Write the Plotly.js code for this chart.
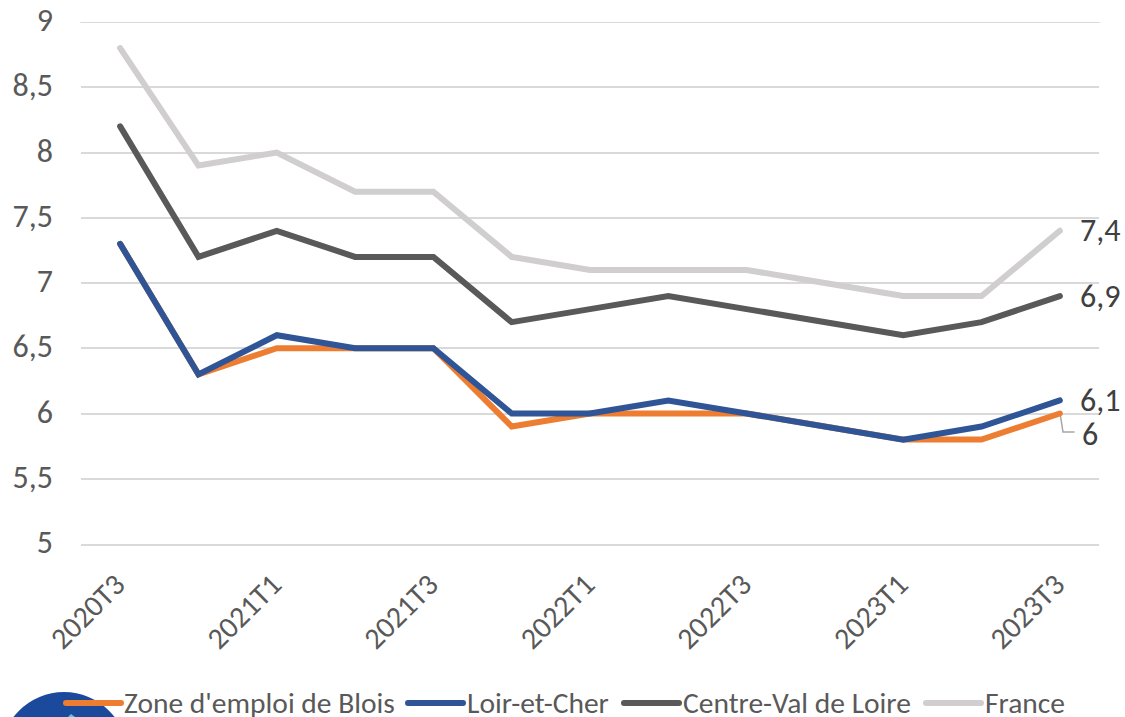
<!DOCTYPE html>
<html><head><meta charset="utf-8">
<script src="https://cdn.plot.ly/plotly-3.0.1.min.js"></script>
<style>html,body{margin:0;padding:0;background:#fff;overflow:hidden}#c{width:1125px;height:717px}
.js-line,.shapelayer path{stroke-linecap:round}</style>
</head><body><div id="c"></div>
<script>
const categories = ["2020T3","2020T4","2021T1","2021T2","2021T3","2021T4","2022T1","2022T2","2022T3","2022T4","2023T1","2023T2","2023T3"];
const tickLabels = ["2020T3","2021T1","2021T3","2022T1","2022T3","2023T1","2023T3"];
const yTicks = [5,5.5,6,6.5,7,7.5,8,8.5,9];
const yTickLabels = ["5","5,5","6","6,5","7","7,5","8","8,5","9"];
const blois = [7.3,6.3,6.5,6.5,6.5,5.9,6.0,6.0,6.0,5.9,5.8,5.8,6.0];
const loirCher = [7.3,6.3,6.6,6.5,6.5,6.0,6.0,6.1,6.0,5.9,5.8,5.9,6.1];
const centre = [8.2,7.2,7.4,7.2,7.2,6.7,6.8,6.9,6.8,6.7,6.6,6.7,6.9];
const france = [8.8,7.9,8.0,7.7,7.7,7.2,7.1,7.1,7.1,7.0,6.9,6.9,7.4];
const names = ["Zone d'emploi de Blois","Loir-et-Cher","Centre-Val de Loire","France"];
const colors = ["#ED7D31","#2F5597","#595959","#D0CECE"];
const series = [blois,loirCher,centre,france];
const font = "Carlito, 'Open Sans', 'Noto Sans', sans-serif";
const L = 81, R = 1099, T = 22, B = 544;
const px = x=>(x-L)/(R-L), py = y=>(B-y)/(B-T);
const traces = [france,centre,blois,loirCher].map(v=>{
  const i = series.indexOf(v);
  return {x:categories,y:v,type:'scatter',mode:'lines',name:names[i],showlegend:false,
    line:{color:colors[i],width:6,shape:'linear'},hoverinfo:'skip',cliponaxis:false};
});
const labelText = v=>String(v).replace('.',',');
const last = categories[categories.length-1];
const ann = [
 {v:france,dx:20,dy:0},{v:centre,dx:20,dy:0},{v:loirCher,dx:20,dy:0},{v:blois,dx:22,dy:21}
].map(o=>({x:last,y:o.v[o.v.length-1],xref:'x',yref:'y',text:labelText(o.v[o.v.length-1]),showarrow:false,
  xanchor:'left',yanchor:'middle',xshift:o.dx-2,yshift:-o.dy,font:{size:32,color:'#404040',family:font}}));
const legendX = [66,408,624,926], legendTextX=[124,467,683,985];
const shapes = [];
const legAnn = names.map((n,i)=>({xref:'paper',yref:'paper',x:px(legendTextX[i]),y:py(703),
  text:n,showarrow:false,xanchor:'left',yanchor:'middle',xshift:-2,height:28,font:{size:29.5,color:'#595959',family:font}}));
names.forEach((n,i)=>shapes.push({type:'line',xref:'paper',yref:'paper',layer:'above',
  x0:px(legendX[i]),x1:px(legendX[i]+55),y0:py(703),y1:py(703),line:{color:colors[i],width:6}}));
// leader line of the "6" label
shapes.push({type:'path',xref:'paper',yref:'paper',layer:'below',
  path:`M ${px(1060)} ${py(413)} L ${px(1063)} ${py(432)} L ${px(1074)} ${py(432)}`,
  line:{color:'#A6A6A6',width:1.5}});
// top gridline
shapes.push({type:'line',xref:'paper',yref:'y',layer:'below',x0:0,x1:1,y0:9,y1:9,line:{color:'#D9D9D9',width:2}});
// logo, bottom-left, cropped by the page edge
shapes.unshift({type:'circle',xref:'paper',yref:'paper',layer:'below',
  x0:px(0),x1:px(128),y0:py(692),y1:py(821),fillcolor:'#1B4A9C',line:{width:0}});
shapes.push({type:'path',xref:'paper',yref:'paper',layer:'below',
  path:`M ${px(68)} ${py(717)} L ${px(71)} ${py(714)} L ${px(75)} ${py(717)} Z`,
  fillcolor:'#5BC5E8',line:{width:0}});
const layout = {
  width:1125,height:717,paper_bgcolor:'#fff',plot_bgcolor:'#fff',showlegend:false,
  margin:{l:L,r:1125-R,t:T,b:717-B,pad:0},
  font:{family:font,color:'#595959'},
  xaxis:{type:'category',categoryorder:'array',categoryarray:categories,range:[-0.5,12.5],
    tickmode:'array',tickvals:tickLabels,ticktext:tickLabels,tickangle:-45,ticklabelstandoff:9,ticklabelshift:-4,
    tickfont:{size:30,color:'#595959',family:font},showgrid:false,zeroline:false,
    showline:true,linecolor:'#D9D9D9',linewidth:2,ticks:''},
  yaxis:{range:[5,9],tickmode:'array',tickvals:yTicks,ticktext:yTickLabels,ticklabelstandoff:27,ticklabelshift:-2,
    tickfont:{size:32,color:'#595959',family:font},gridcolor:'#D9D9D9',gridwidth:2,
    zeroline:false,showline:false,ticks:'',ticklen:0,automargin:false},
  annotations:ann.concat(legAnn),shapes:shapes
};
Plotly.newPlot('c',traces,layout,{displayModeBar:false,staticPlot:true});
</script></body></html>
